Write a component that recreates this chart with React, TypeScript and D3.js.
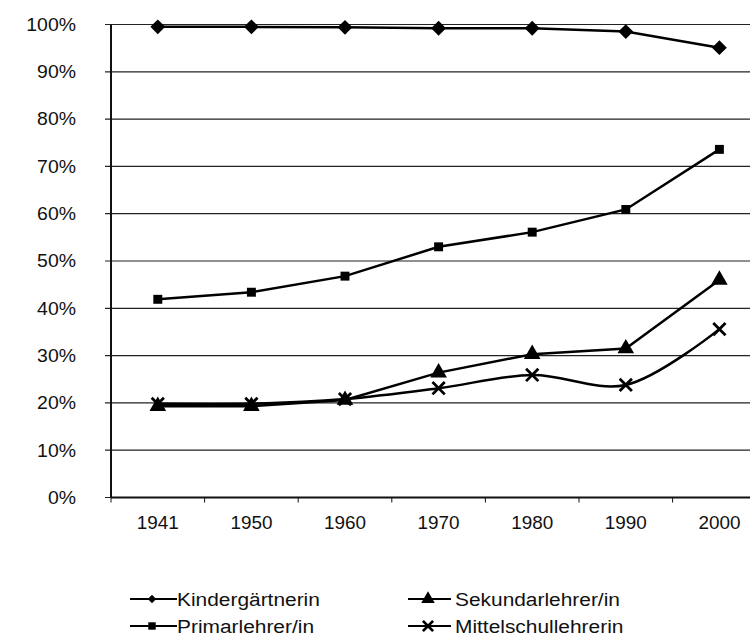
import { useMemo } from 'react';
import * as d3 from 'd3';

// Chart data (share of women, in %)
const years = ['1941', '1950', '1960', '1970', '1980', '1990', '2000'];
const kindergaertnerin = [99.5, 99.5, 99.4, 99.2, 99.2, 98.5, 95.1];
const primarlehrer = [41.9, 43.4, 46.8, 53.0, 56.1, 60.9, 73.6];
const sekundarlehrer = [19.3, 19.3, 20.6, 26.4, 30.3, 31.5, 46.0];
const mittelschullehrerin = [19.8, 19.8, 20.8, 23.1, 25.9, 23.8, 35.6];
const yTicks = [0, 10, 20, 30, 40, 50, 60, 70, 80, 90, 100];

interface Series {
  name: string;
  values: number[];
  symbol: d3.SymbolType;
  size: number;
  legendSize: number;
  smooth: boolean;
  stroke: boolean;
}

const series: Series[] = [
  { name: 'Kindergärtnerin', values: kindergaertnerin, symbol: d3.symbolDiamond2, size: 140, legendSize: 45, smooth: false, stroke: false },
  { name: 'Primarlehrer/in', values: primarlehrer, symbol: d3.symbolSquare, size: 80, legendSize: 55, smooth: false, stroke: false },
  { name: 'Sekundarlehrer/in', values: sekundarlehrer, symbol: d3.symbolTriangle, size: 120, legendSize: 80, smooth: false, stroke: false },
  { name: 'Mittelschullehrerin', values: mittelschullehrerin, symbol: d3.symbolX, size: 100, legendSize: 70, smooth: true, stroke: true },
];

const width = 750;
const height = 641;
const font = 'Arial, "Liberation Sans", sans-serif';

// scanned text looks a bit wider than plain Arial
const Label = ({ x, y, anchor, size, sx, children }: any) => (
  <text
    transform={`translate(${x},${y}) scale(${sx},1)`}
    dy="0.35em"
    textAnchor={anchor}
    fontFamily={font}
    fontSize={size}
    fill="#111"
  >
    {children}
  </text>
);

const App = () => {
  const left = 111;
  const band = 93.6;

  const x = useMemo(
    () => d3.scaleBand<string>().domain(years).range([left, left + band * years.length]),
    []
  );
  const y = useMemo(() => d3.scaleLinear().domain([0, 100]).range([497.5, 24.5]), []);
  const cx = (yr: string) => (x(yr) ?? 0) + x.bandwidth() / 2;

  const marker = (s: Series, size: number, px: number, py: number, key: string | number) => {
    const path = d3.symbol().type(s.symbol).size(size)() ?? '';
    return s.stroke ? (
      <path key={key} d={path} transform={`translate(${px},${py})`} fill="none" stroke="#000" strokeWidth={2.8} />
    ) : (
      <path key={key} d={path} transform={`translate(${px},${py})`} fill="#000" />
    );
  };

  return (
    <svg width={width} height={height} style={{ position: 'absolute', left: 0, top: 0, background: '#fff' }}>
      {/* gridlines + y labels */}
      {yTicks.map((t) => (
        <g key={t}>
          <line x1={left - 6} x2={width} y1={y(t)} y2={y(t)} stroke="#222" strokeWidth={1.2} />
          <Label x={76} y={y(t)} anchor="end" size={18} sx={1.08}>
            {t}%
          </Label>
        </g>
      ))}

      {/* axes */}
      <line x1={left} x2={left} y1={y(100)} y2={y(0)} stroke="#111" strokeWidth={2} />
      <line x1={left} x2={width} y1={y(0)} y2={y(0)} stroke="#111" strokeWidth={2} />
      {years.map((yr, i) => (
        <g key={yr}>
          <line x1={left + band * i} x2={left + band * i} y1={y(0)} y2={y(0) + 5} stroke="#111" strokeWidth={1} />
          <Label x={cx(yr)} y={523} anchor="middle" size={18} sx={1.05}>
            {yr}
          </Label>
        </g>
      ))}
      <line x1={left + band * years.length} x2={left + band * years.length} y1={y(0)} y2={y(0) + 5} stroke="#111" />

      {/* series */}
      {series.map((s) => {
        const line = d3
          .line<number>()
          .x((_, i) => cx(years[i]))
          .y((d) => y(d))
          .curve(s.smooth ? d3.curveCatmullRom.alpha(0.5) : d3.curveLinear);
        return (
          <g key={s.name}>
            <path d={line(s.values) ?? ''} fill="none" stroke="#000" strokeWidth={2.5} />
            {s.values.map((v, i) => marker(s, s.size, cx(years[i]), y(v), i))}
          </g>
        );
      })}

      {/* legend */}
      {series.map((s, i) => {
        const col = i < 2 ? 0 : 1;
        const row = i % 2;
        const lx = col === 0 ? 130 : 408;
        const lw = col === 0 ? 47 : 43;
        const ly = 599 + row * 27;
        return (
          <g key={s.name}>
            <line x1={lx} x2={lx + lw} y1={ly} y2={ly} stroke="#000" strokeWidth={2} />
            {marker(s, s.legendSize, lx + (col === 0 ? 22 : 20), ly, 'm')}
            <Label x={lx + lw + (col === 0 ? 0 : 4)} y={ly} anchor="start" size={19} sx={1.1}>
              {s.name}
            </Label>
          </g>
        );
      })}
    </svg>
  );
};

export default App;
